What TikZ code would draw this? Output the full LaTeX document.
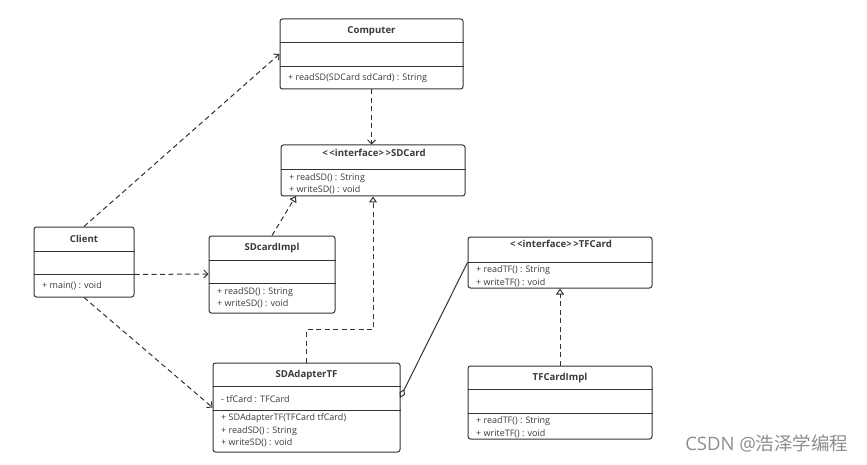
\documentclass[tikz,border=0pt]{standalone}
\usepackage{fontspec}
\setmainfont{Open Sans}
\newfontfamily\cjkfont{Noto Sans CJK SC}
\usepackage{tikz}
\usetikzlibrary{arrows.meta}
\definecolor{umlline}{HTML}{333333}
\definecolor{umltext}{HTML}{3A3A3A}
\definecolor{markgray}{HTML}{8E8E8E}

\begin{document}
\begin{tikzpicture}[x=1pt, y=-1pt]
	\tikzstyle{every node} = [font = \fontsize{9}{10}\selectfont, text = umltext]
	\tikzstyle{umlbox} = [draw = umlline, line width = 1pt, rounded corners = 2.5pt, inner sep = 0pt, fill = white]
	\tikzstyle{umltitle} = [font = \fontsize{9.6}{10}\selectfont\bfseries, inner sep = 0pt]
	\tikzstyle{member} = [anchor = west, inner sep = 0pt]
	\tikzstyle{sep} = [draw = umlline, line width = 1pt]
	\tikzstyle{dep} = [draw = umlline, line width = 1pt, dash pattern = on 5pt off 3.5pt,
		-{Straight Barb[length = 4pt, width = 8pt]}]
	\tikzstyle{realize} = [draw = umlline, line width = 1pt, dash pattern = on 5pt off 3.5pt,
		-{Triangle[open, length = 6pt, width = 8pt]}]
	\tikzstyle{aggr} = [draw = umlline, line width = 1pt, {Diamond[open, length = 10pt, width = 6pt]}-]

	\useasboundingbox (0,0) rectangle (867,465);

	% Computer
	\node[umlbox, minimum width = 183pt, minimum height = 70pt] (computer) at (371.5,54) {};
	\path[sep] (computer.west |- 0,43) -- (computer.east |- 0,43);
	\path[sep] (computer.west |- 0,67) -- (computer.east |- 0,67);
	\node[umltitle] (computerT) at (371.5,31) {Computer};
	\node[member] (computerM1) at (288,78) {+ readSD(SDCard sdCard) : String};

	% SDCard
	\node[umlbox, minimum width = 184pt, minimum height = 51pt] (sdcard) at (373,170.5) {};
	\path[sep] (sdcard.west |- 0,170) -- (sdcard.east |- 0,170);
	\node[umltitle] (sdcardT) at (374,153) {<\,<interface>\,>SDCard};
	\node[member] (sdcardM1) at (289,178) {+ readSD() : String};
	\node[member] (sdcardM2) at (289,190) {+ writeSD() : void};

	% Client
	\node[umlbox, minimum width = 100pt, minimum height = 70pt] (client) at (84,262) {};
	\path[sep] (client.west |- 0,251) -- (client.east |- 0,251);
	\path[sep] (client.west |- 0,274) -- (client.east |- 0,274);
	\node[umltitle] (clientT) at (84,239) {Client};
	\node[member] (clientM1) at (42,286) {+ main() : void};

	% SDcardImpl
	\node[umlbox, minimum width = 126pt, minimum height = 77pt] (sdimpl) at (272,274.5) {};
	\path[sep] (sdimpl.west |- 0,260) -- (sdimpl.east |- 0,260);
	\path[sep] (sdimpl.west |- 0,283) -- (sdimpl.east |- 0,283);
	\node[umltitle] (sdimplT) at (272,248) {SDcardImpl};
	\node[member] (sdimplM1) at (217,292) {+ readSD() : String};
	\node[member] (sdimplM2) at (217,304) {+ writeSD() : void};

	% SDAdapterTF
	\node[umlbox, minimum width = 187pt, minimum height = 89pt] (adapter) at (306.5,407.5) {};
	\path[sep] (adapter.west |- 0,386) -- (adapter.east |- 0,386);
	\path[sep] (adapter.west |- 0,410) -- (adapter.east |- 0,410);
	\node[umltitle] (adapterT) at (306.5,375) {SDAdapterTF};
	\node[member] (adapterA1) at (221,399) {- tfCard : TFCard};
	\node[member] (adapterM1) at (221,418) {+ SDAdapterTF(TFCard tfCard)};
	\node[member] (adapterM2) at (221,431) {+ readSD() : String};
	\node[member] (adapterM3) at (221,443) {+ writeSD() : void};

	% TFCard
	\node[umlbox, minimum width = 184pt, minimum height = 51pt] (tfcard) at (560,262.5) {};
	\path[sep] (tfcard.west |- 0,262) -- (tfcard.east |- 0,262);
	\node[umltitle] (tfcardT) at (561,244) {<\,<interface>\,>TFCard};
	\node[member] (tfcardM1) at (476,270) {+ readTF() : String};
	\node[member] (tfcardM2) at (476,283) {+ writeTF() : void};

	% TFCardImpl
	\node[umlbox, minimum width = 184pt, minimum height = 73pt] (tfimpl) at (560,402.5) {};
	\path[sep] (tfimpl.west |- 0,389) -- (tfimpl.east |- 0,389);
	\path[sep] (tfimpl.west |- 0,413) -- (tfimpl.east |- 0,413);
	\node[umltitle] (tfimplT) at (560,378) {TFCardImpl};
	\node[member] (tfimplM1) at (476,421) {+ readTF() : String};
	\node[member] (tfimplM2) at (476,434) {+ writeTF() : void};

	% connectors
	\coordinate (sdcardIn) at (296,196);
	\coordinate (adapterOut) at (400,398);
	\path[dep] (client.north) -- (computer.west);
	\path[dep] (computer.south) -- (computer.south |- sdcard.north);
	\path[dep] (client.south east) ++(0,-23) -- (sdimpl.west |- 0,274);
	\path[dep] (client.south) -- (adapter.west);
	\path[realize] (sdimpl.north) -- (sdcardIn);
	\path[realize] (adapter.north) -- ++(0,-33) -| (sdcard.south);
	\path[realize] (tfimpl.north) -- (tfcard.south);
	\path[aggr] (adapterOut) -- (tfcard.west);

	\node[font = \fontsize{18.5}{20}\selectfont, text = markgray, anchor = east] (mark) at (852,443)
		{CSDN @{\cjkfont 浩泽学编程}};
\end{tikzpicture}
\end{document}
